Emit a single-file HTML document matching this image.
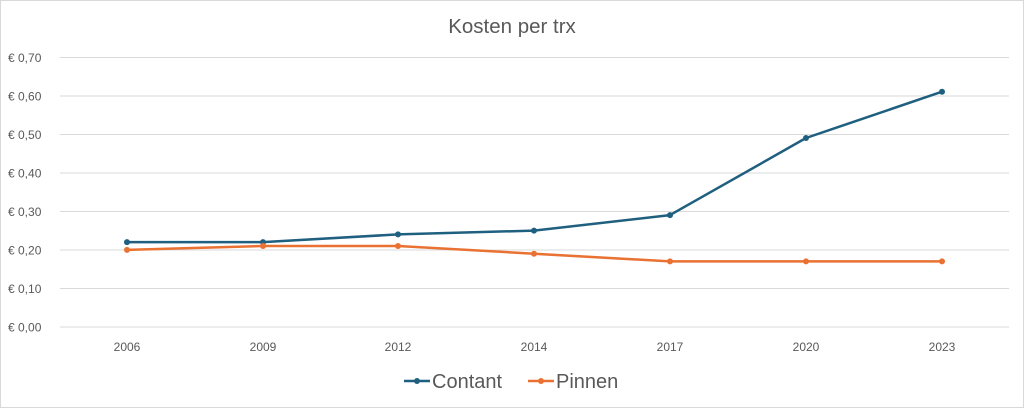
<!DOCTYPE html>
<html><head><meta charset="utf-8"><style>
html,body{margin:0;padding:0;background:#fff}
svg{display:block}
text{font-family:"Liberation Sans",sans-serif}
</style></head><body>
<svg width="1024" height="408" viewBox="0 0 1024 408">
<rect x="0.5" y="0.5" width="1023" height="407" fill="#fff" stroke="#d9d9d9"/>
<text x="512" y="33" text-anchor="middle" font-size="20.5" fill="#595959">Kosten per trx</text>
<g stroke="#d9d9d9" stroke-width="1">
<line x1="60" x2="1009" y1="57.5" y2="57.5"/>
<line x1="60" x2="1009" y1="96" y2="96"/>
<line x1="60" x2="1009" y1="134.5" y2="134.5"/>
<line x1="60" x2="1009" y1="173" y2="173"/>
<line x1="60" x2="1009" y1="211.5" y2="211.5"/>
<line x1="60" x2="1009" y1="250" y2="250"/>
<line x1="60" x2="1009" y1="288.5" y2="288.5"/>
<line x1="60" x2="1009" y1="327" y2="327"/>
</g>
<g font-size="12" fill="#595959">
<text x="8" y="62">€ 0,70</text>
<text x="8" y="100.5">€ 0,60</text>
<text x="8" y="139">€ 0,50</text>
<text x="8" y="177.5">€ 0,40</text>
<text x="8" y="216">€ 0,30</text>
<text x="8" y="254.5">€ 0,20</text>
<text x="8" y="293">€ 0,10</text>
<text x="8" y="331.5">€ 0,00</text>
</g>
<g font-size="12" fill="#595959" text-anchor="middle">
<text x="127" y="351">2006</text><text x="263" y="351">2009</text><text x="398" y="351">2012</text>
<text x="534" y="351">2014</text><text x="670" y="351">2017</text><text x="806" y="351">2020</text><text x="942" y="351">2023</text>
</g>
<polyline fill="none" stroke="#1f5f7f" stroke-width="2.5" stroke-linejoin="round" points="127,242.1 263,242.1 398,234.4 534,230.6 670,215.1 806,138 942,91.7"/>
<g fill="#1f5f7f"><circle cx="127" cy="242.1" r="3"/><circle cx="263" cy="242.1" r="3"/><circle cx="398" cy="234.4" r="3"/><circle cx="534" cy="230.6" r="3"/><circle cx="670" cy="215.1" r="3"/><circle cx="806" cy="138" r="3"/><circle cx="942" cy="91.7" r="3"/></g>
<polyline fill="none" stroke="#e97132" stroke-width="2.5" stroke-linejoin="round" points="127,249.9 263,246 398,246 534,253.7 670,261.4 806,261.4 942,261.4"/>
<g fill="#e97132"><circle cx="127" cy="249.9" r="3"/><circle cx="263" cy="246" r="3"/><circle cx="398" cy="246" r="3"/><circle cx="534" cy="253.7" r="3"/><circle cx="670" cy="261.4" r="3"/><circle cx="806" cy="261.4" r="3"/><circle cx="942" cy="261.4" r="3"/></g>
<line x1="404" x2="430" y1="381" y2="381" stroke="#1f5f7f" stroke-width="2.5"/><circle cx="417" cy="381" r="3" fill="#1f5f7f"/>
<text x="432" y="388" font-size="20" fill="#595959">Contant</text>
<line x1="528" x2="554" y1="381" y2="381" stroke="#e97132" stroke-width="2.5"/><circle cx="541" cy="381" r="3" fill="#e97132"/>
<text x="556" y="388" font-size="20" fill="#595959">Pinnen</text>
</svg>
</body></html>
